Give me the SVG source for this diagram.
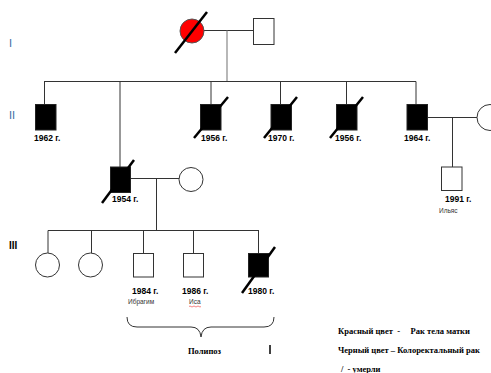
<svg xmlns="http://www.w3.org/2000/svg" width="491" height="373" viewBox="0 0 491 373">
<style>
.ln{stroke:#333;stroke-width:1;fill:none}
.lg{stroke:#888;stroke-width:1.2;fill:none}
.sq{fill:#fff;stroke:#333;stroke-width:1}
.aff{fill:#000;stroke:#222;stroke-width:1}
.ci{fill:#fff;stroke:#333;stroke-width:1}
.red{fill:#f00;stroke:#555;stroke-width:1}
.dead{stroke:#000;stroke-width:2.5;stroke-linecap:butt}
.yr{font-family:"Liberation Sans",Arial,sans-serif;font-weight:bold;font-size:8.5px;fill:#000}
.nm{font-family:"Liberation Sans",Arial,sans-serif;font-size:6.5px;fill:#333}
.gen{font-family:"Liberation Sans",Arial,sans-serif;font-size:11px;fill:#3a6ea5}
.lgd{font-family:"Liberation Serif","Times New Roman",serif;font-weight:bold;font-size:8.5px;fill:#000}
</style>
<rect width="491" height="373" fill="#fff"/>
<text class="gen" x="9" y="47">I</text>
<text class="gen" x="9" y="119">II</text>
<text x="9" y="249" style="font-family:'Liberation Sans',Arial,sans-serif;font-weight:bold;font-size:10px;fill:#000">III</text>
<g id="connectors">
<line class="ln" x1="204" y1="30.5" x2="253" y2="30.5"/>
<line class="lg" x1="227" y1="30.5" x2="227" y2="81.5"/>
<line class="ln" x1="44" y1="81.5" x2="416" y2="81.5"/>
<line class="ln" x1="44.5" y1="81.5" x2="44.5" y2="104"/>
<line class="ln" x1="120" y1="81.5" x2="120" y2="167"/>
<line class="ln" x1="211" y1="81.5" x2="211" y2="104"/>
<line class="ln" x1="280.5" y1="81.5" x2="280.5" y2="104"/>
<line class="ln" x1="346.5" y1="81.5" x2="346.5" y2="104"/>
<line class="ln" x1="416" y1="81.5" x2="416" y2="104"/>
<line class="ln" x1="427" y1="117.5" x2="477" y2="117.5"/>
<line class="ln" x1="452.5" y1="117.5" x2="452.5" y2="167"/>
<line class="ln" x1="130" y1="178.5" x2="179" y2="178.5"/>
<line class="ln" x1="156.5" y1="178.5" x2="156.5" y2="230.5"/>
<line class="ln" x1="48" y1="230.5" x2="259" y2="230.5"/>
<line class="ln" x1="48" y1="230.5" x2="48" y2="253"/>
<line class="ln" x1="91.5" y1="230.5" x2="91.5" y2="253"/>
<line class="ln" x1="143.5" y1="230.5" x2="143.5" y2="253"/>
<line class="ln" x1="193.5" y1="230.5" x2="193.5" y2="253"/>
<line class="ln" x1="258.5" y1="230.5" x2="258.5" y2="253"/>
</g>
<g id="I-1"><circle class="red" cx="192" cy="31" r="12"/><line class="dead" x1="175" y1="53" x2="207" y2="12"/></g>
<g id="I-2"><rect class="sq" x="253.5" y="18.5" width="20.5" height="26"/></g>
<g id="II-1"><rect class="aff" x="35.5" y="104.5" width="20.5" height="25.5"/><text class="yr" x="34" y="141">1962 г.</text></g>
<g id="II-2"><rect class="aff" x="200.5" y="104.5" width="20.5" height="25.5"/><line class="dead" x1="194" y1="138" x2="228" y2="97"/><text class="yr" x="201" y="141">1956 г.</text></g>
<g id="II-3"><rect class="aff" x="271" y="104.5" width="20.5" height="25.5"/><line class="dead" x1="264" y1="138" x2="297" y2="97"/><text class="yr" x="268" y="141">1970 г.</text></g>
<g id="II-4"><rect class="aff" x="336.5" y="104.5" width="20.5" height="25.5"/><line class="dead" x1="330" y1="138" x2="363" y2="97"/><text class="yr" x="335" y="141">1956 г.</text></g>
<g id="II-5"><rect class="aff" x="407" y="104.5" width="20.5" height="25.5"/><text class="yr" x="404" y="141">1964 г.</text></g>
<g id="II-6"><circle class="ci" cx="490" cy="117.5" r="13"/></g>
<g id="II-0"><rect class="aff" x="110.5" y="167" width="20" height="25.5"/><line class="dead" x1="102" y1="203" x2="134" y2="160"/><text class="yr" x="112" y="202">1954 г.</text></g>
<g id="II-0w"><circle class="ci" cx="191" cy="179.5" r="12"/></g>
<g id="III-x"><rect class="sq" x="441.5" y="167" width="20.5" height="23.5"/><text class="yr" x="445" y="202">1991 г.</text><text class="nm" x="439" y="213">Ильяс</text></g>
<g id="III-1"><circle class="ci" cx="47.5" cy="265" r="12"/></g>
<g id="III-2"><circle class="ci" cx="90.5" cy="265" r="12"/></g>
<g id="III-3"><rect class="sq" x="133.5" y="253.5" width="20" height="23.5"/><text class="yr" x="132" y="294">1984 г.</text><text class="nm" x="128" y="304">Ибрагим</text></g>
<g id="III-4"><rect class="sq" x="183.5" y="253.5" width="20" height="23.5"/><text class="yr" x="182" y="294">1986 г.</text><text class="nm" x="189" y="304">Иса</text><path d="M189 306.5 q1 -1 2 0 t2 0 t2 0 t2 0 t2 0 t2 0" stroke="#e33" stroke-width="0.6" fill="none"/></g>
<g id="III-5"><rect class="aff" x="248.5" y="253.5" width="20" height="23.5"/><line class="dead" x1="242" y1="293" x2="275" y2="247"/><text class="yr" x="248" y="294">1980 г.</text></g>
<path d="M127 317 Q127 327 137 327 L191 327 Q200 327 201 337 Q202 327 211 327 L264 327 Q274 327 274 317" fill="none" stroke="#333" stroke-width="1"/>
<text class="lgd" x="188" y="354">Полипоз</text>
<line x1="270" y1="345" x2="270" y2="354" stroke="#000" stroke-width="1.5"/>
<text class="lgd" x="338" y="334" xml:space="preserve">Красный цвет  -     Рак тела матки</text>
<text class="lgd" x="338" y="353">Черный цвет – Колоректальный рак</text>
<text class="lgd" x="341" y="372" xml:space="preserve">/  - умерли</text>
</svg>
